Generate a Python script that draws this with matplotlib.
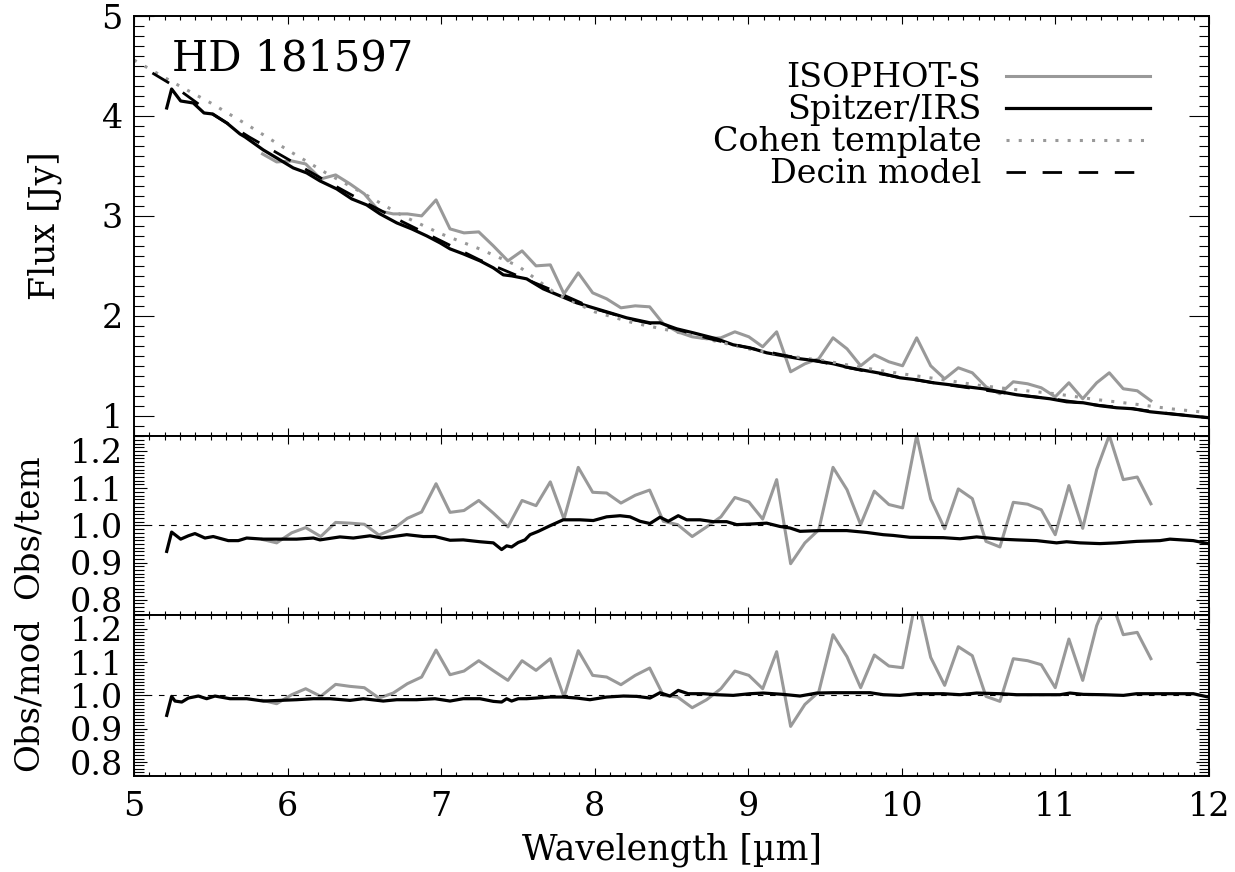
import numpy as np
import matplotlib
matplotlib.use('Agg')
import matplotlib.pyplot as plt
from matplotlib.ticker import MultipleLocator, FormatStrFormatter

plt.rcParams['font.family'] = ['DejaVu Serif']
plt.rcParams['mathtext.fontset'] = 'dejavuserif'

# ISOPHOT-S spectrum (wavelength in micron)
iso_wave = [5.837, 5.929, 6.027, 6.118, 6.216, 6.313, 6.407, 6.500, 6.595, 6.688,
            6.780, 6.873, 6.967, 7.058, 7.149, 7.245, 7.340, 7.435, 7.527, 7.618,
            7.711, 7.800, 7.893, 7.987, 8.078, 8.171, 8.264, 8.358, 8.447, 8.540,
            8.635, 8.729, 8.822, 8.913, 9.004, 9.094, 9.185, 9.276, 9.369, 9.459,
            9.552, 9.643, 9.732, 9.821, 9.916, 10.005, 10.097, 10.188, 10.279, 10.368,
            10.459, 10.548, 10.639, 10.726, 10.819, 10.908, 10.999, 11.088, 11.178, 11.269,
            11.351, 11.442, 11.533, 11.622]
iso_flux = [3.62, 3.54, 3.55, 3.52, 3.37, 3.41, 3.32, 3.22, 3.05, 3.02,
            3.02, 3.00, 3.16, 2.87, 2.83, 2.84, 2.70, 2.55, 2.65, 2.50,
            2.51, 2.22, 2.43, 2.23, 2.17, 2.08, 2.10, 2.09, 1.92, 1.84,
            1.79, 1.77, 1.78, 1.84, 1.79, 1.69, 1.84, 1.44, 1.52, 1.57,
            1.78, 1.67, 1.50, 1.61, 1.54, 1.50, 1.78, 1.50, 1.37, 1.48,
            1.43, 1.29, 1.22, 1.34, 1.32, 1.28, 1.19, 1.33, 1.17, 1.33,
            1.43, 1.27, 1.25, 1.15]
iso_obs_tem = [0.962, 0.953, 0.980, 0.994, 0.970, 1.008, 1.006, 1.003, 0.974, 0.990,
               1.019, 1.036, 1.112, 1.035, 1.040, 1.067, 1.033, 0.996, 1.067, 1.053,
               1.117, 1.017, 1.156, 1.089, 1.087, 1.060, 1.081, 1.095, 1.011, 1.002,
               0.970, 0.996, 1.023, 1.075, 1.063, 1.017, 1.123, 0.897, 0.953, 0.988,
               1.156, 1.096, 1.002, 1.092, 1.056, 1.047, 1.242, 1.071, 0.991, 1.098,
               1.072, 0.957, 0.942, 1.062, 1.057, 1.042, 0.975, 1.107, 0.992, 1.150,
               1.242, 1.123, 1.130, 1.058]
iso_obs_mod = [0.985, 0.975, 1.002, 1.020, 0.997, 1.033, 1.027, 1.023, 0.992, 1.007,
               1.035, 1.055, 1.136, 1.062, 1.073, 1.104, 1.074, 1.045, 1.104, 1.075,
               1.110, 0.995, 1.134, 1.060, 1.055, 1.032, 1.060, 1.082, 1.000, 0.995,
               0.963, 0.987, 1.020, 1.073, 1.060, 1.020, 1.131, 0.907, 0.973, 1.010,
               1.182, 1.116, 1.023, 1.121, 1.088, 1.083, 1.300, 1.114, 1.030, 1.146,
               1.119, 0.997, 0.982, 1.110, 1.104, 1.092, 1.023, 1.169, 1.045, 1.209,
               1.300, 1.182, 1.189, 1.110]

# Spitzer/IRS spectrum
irs_wave = [5.213, 5.245, 5.304, 5.386, 5.456, 5.512, 5.604, 5.690, 5.723, 5.842,
            5.940, 6.037, 6.125, 6.211, 6.320, 6.418, 6.515, 6.602, 6.711, 6.808,
            6.906, 6.993, 7.058, 7.144, 7.253, 7.340, 7.405, 7.459, 7.557, 7.665,
            7.774, 7.883, 7.991, 8.100, 8.208, 8.360, 8.425, 8.534, 8.642, 8.794,
            8.902, 9.011, 9.120, 9.337, 9.446, 9.554, 9.662, 9.771, 9.879, 9.988,
            10.097, 10.205, 10.314, 10.422, 10.530, 10.639, 10.748, 10.856, 10.965, 11.073,
            11.181, 11.290, 11.399, 11.507, 11.616, 12.0]
irs_flux = [4.08, 4.27, 4.15, 4.13, 4.03, 4.02, 3.93, 3.82, 3.79, 3.66,
            3.57, 3.48, 3.43, 3.35, 3.27, 3.17, 3.11, 3.02, 2.93, 2.87,
            2.80, 2.73, 2.67, 2.62, 2.55, 2.48, 2.41, 2.40, 2.37, 2.27,
            2.20, 2.13, 2.08, 2.03, 1.98, 1.93, 1.93, 1.87, 1.83, 1.77,
            1.71, 1.68, 1.63, 1.57, 1.55, 1.52, 1.48, 1.45, 1.42, 1.38,
            1.36, 1.33, 1.31, 1.29, 1.27, 1.24, 1.21, 1.19, 1.17, 1.14,
            1.13, 1.10, 1.08, 1.07, 1.04, 0.98]

irs_tem_wave = [5.213, 5.245, 5.304, 5.354, 5.397, 5.462, 5.516, 5.614, 5.679, 5.734,
                5.842, 5.951, 6.059, 6.168, 6.211, 6.341, 6.428, 6.537, 6.613, 6.688,
                6.776, 6.884, 6.960, 7.058, 7.144, 7.253, 7.340, 7.394, 7.427, 7.459,
                7.502, 7.546, 7.579, 7.633, 7.709, 7.795, 7.904, 7.991, 8.078, 8.165,
                8.230, 8.295, 8.360, 8.425, 8.479, 8.544, 8.599, 8.686, 8.772, 8.859,
                8.925, 9.033, 9.120, 9.207, 9.272, 9.337, 9.467, 9.641, 9.771, 9.879,
                9.944, 10.053, 10.270, 10.379, 10.487, 10.639, 10.748, 10.878, 11.008, 11.073,
                11.160, 11.290, 11.399, 11.529, 11.681, 11.746, 11.898, 11.995]
irs_obs_tem = [0.930, 0.982, 0.963, 0.972, 0.978, 0.966, 0.970, 0.959, 0.959, 0.966,
               0.963, 0.963, 0.963, 0.966, 0.961, 0.969, 0.966, 0.972, 0.966, 0.970,
               0.975, 0.970, 0.970, 0.960, 0.961, 0.956, 0.953, 0.935, 0.945, 0.942,
               0.954, 0.961, 0.975, 0.984, 0.999, 1.015, 1.015, 1.013, 1.023, 1.026,
               1.023, 1.011, 1.005, 1.022, 1.011, 1.026, 1.015, 1.015, 1.010, 1.010,
               1.002, 1.004, 1.006, 0.997, 0.993, 0.984, 0.986, 0.986, 0.981, 0.975,
               0.973, 0.968, 0.967, 0.964, 0.969, 0.963, 0.961, 0.959, 0.953, 0.956,
               0.953, 0.951, 0.953, 0.957, 0.959, 0.963, 0.959, 0.951]

irs_mod_wave = [5.213, 5.245, 5.267, 5.311, 5.354, 5.419, 5.473, 5.527, 5.625, 5.734,
                5.842, 5.951, 6.059, 6.168, 6.276, 6.407, 6.493, 6.623, 6.711, 6.841,
                6.960, 7.058, 7.144, 7.253, 7.340, 7.394, 7.427, 7.459, 7.502, 7.557,
                7.709, 7.795, 7.883, 7.969, 8.078, 8.186, 8.273, 8.360, 8.425, 8.490,
                8.544, 8.609, 8.707, 8.794, 8.902, 9.011, 9.098, 9.228, 9.337, 9.446,
                9.554, 9.727, 9.793, 9.879, 9.988, 10.097, 10.270, 10.379, 10.487, 10.639,
                10.748, 10.878, 11.030, 11.095, 11.182, 11.313, 11.443, 11.529, 11.681, 11.898,
                11.995]
irs_obs_mod = [0.940, 0.997, 0.983, 0.980, 0.992, 0.998, 0.990, 0.998, 0.990, 0.990,
               0.983, 0.985, 0.987, 0.990, 0.990, 0.985, 0.990, 0.983, 0.987, 0.987,
               0.990, 0.983, 0.990, 0.990, 0.982, 0.980, 0.990, 0.983, 0.990, 0.990,
               0.995, 0.995, 0.992, 0.987, 0.995, 0.998, 0.997, 0.992, 1.008, 0.998,
               1.015, 1.005, 1.005, 1.002, 1.000, 1.005, 1.007, 1.003, 0.998, 1.007,
               1.008, 1.008, 1.008, 1.002, 1.000, 1.005, 1.005, 1.002, 1.007, 1.005,
               1.002, 1.002, 1.002, 1.007, 1.003, 1.002, 1.000, 1.005, 1.005, 1.005,
               0.995]

# Cohen template and Decin model
cohen_wave = [5.0, 5.25, 5.5, 5.75, 6.0, 6.25, 6.5, 6.75, 7.0, 7.25,
              7.5, 7.75, 8.0, 8.25, 8.5, 8.75, 9.0, 9.25, 9.5, 9.75,
              10.0, 10.25, 10.5, 10.75, 11.0, 11.25, 11.5, 11.75, 12.0]
cohen_flux = [4.56, 4.34, 4.13, 3.90, 3.66, 3.43, 3.22, 3.00, 2.82, 2.67,
              2.50, 2.22, 2.04, 1.93, 1.85, 1.76, 1.67, 1.60, 1.55, 1.48,
              1.42, 1.365, 1.305, 1.26, 1.22, 1.165, 1.12, 1.07, 1.03]

decin_wave = [5.12, 5.25, 5.5, 5.75, 6.0, 6.25, 6.5, 6.75, 7.0, 7.25,
              7.5, 7.75, 8.0, 8.25, 8.5, 8.75, 9.0, 9.25, 9.5, 9.75,
              10.0, 10.25, 10.5, 10.75, 11.0, 11.25, 11.5, 11.75, 12.0]
decin_flux = [4.43, 4.31, 4.03, 3.79, 3.57, 3.35, 3.14, 2.94, 2.75, 2.56,
              2.40, 2.24, 2.07, 1.96, 1.88, 1.77, 1.68, 1.60, 1.53, 1.45,
              1.38, 1.32, 1.265, 1.21, 1.165, 1.11, 1.07, 1.02, 0.98]

GREY = '#999999'
FS = 24      # tick labels and legend
LFS = 25     # axis titles

fig = plt.figure(figsize=(12.35, 8.72), dpi=100)
ax1 = fig.add_axes([0.1085, 0.5003, 0.8704, 0.4813])
ax2 = fig.add_axes([0.1085, 0.2947, 0.8704, 0.2056], sharex=ax1)
ax3 = fig.add_axes([0.1085, 0.1104, 0.8704, 0.1843], sharex=ax1)

# top panel: fluxes
ax1.plot(iso_wave, iso_flux, color=GREY, lw=2.2, label='ISOPHOT-S')
ax1.plot(irs_wave, irs_flux, color='black', lw=2.3, label='Spitzer/IRS')
ax1.plot(cohen_wave, cohen_flux, color=GREY, lw=2.2, linestyle=(0, (1, 3)),
         label='Cohen template')
ax1.plot(decin_wave, decin_flux, color='black', lw=2.0, linestyle=(0, (7, 6)),
         label='Decin model')
ax1.set_ylim(0.8, 5.0)
ax1.yaxis.set_major_locator(MultipleLocator(1))
ax1.yaxis.set_minor_locator(MultipleLocator(0.1))
ax1.text(0.035, 0.871, 'HD 181597', transform=ax1.transAxes, fontsize=30,
         va='baseline', ha='left')
leg = ax1.legend(loc='upper right', bbox_to_anchor=(0.945, 0.89), frameon=False,
                 markerfirst=False, fontsize=FS, handlelength=4.3,
                 handletextpad=0.75, labelspacing=0.0, borderpad=0,
                 borderaxespad=0)

# ratio panels
ax2.plot(iso_wave, iso_obs_tem, color=GREY, lw=2.2)
ax2.plot(irs_tem_wave, irs_obs_tem, color='black', lw=2.3)
ax3.plot(iso_wave, iso_obs_mod, color=GREY, lw=2.2)
ax3.plot(irs_mod_wave, irs_obs_mod, color='black', lw=2.3)

for ax in (ax2, ax3):
    ax.axhline(1.0, color='black', lw=0.8, linestyle=(0, (5, 6)))
    ax.set_ylim(0.759, 1.241)
    ax.yaxis.set_major_locator(MultipleLocator(0.1))
    ax.yaxis.set_minor_locator(MultipleLocator(0.01))
    ax.yaxis.set_major_formatter(FormatStrFormatter('%.1f'))

for ax in (ax1, ax2, ax3):
    ax.set_xlim(5, 12)
    ax.xaxis.set_major_locator(MultipleLocator(1))
    ax.xaxis.set_minor_locator(MultipleLocator(0.1))
    for s in ax.spines.values():
        s.set_linewidth(1.4)
    ax.tick_params(which='both', direction='in', top=True, right=True,
                   labelsize=FS, width=0.8)
    ax.tick_params(axis='x', which='major', length=5.8, pad=11)
    ax.tick_params(axis='x', which='minor', length=3.2)

ax1.tick_params(axis='y', which='major', length=14.5, pad=8)
ax1.tick_params(axis='y', which='minor', length=7.5)
for ax in (ax2, ax3):
    ax.tick_params(axis='y', which='major', length=9.5, pad=8)
    ax.tick_params(axis='y', which='minor', length=7)

ax1.tick_params(labelbottom=False)
ax2.tick_params(labelbottom=False)

fig.text(672 / 1235, 1 - 850 / 872, 'Wavelength [µm]', fontsize=LFS,
         ha='center', va='center')
fig.text(45 / 1235, 1 - 226 / 872, 'Flux [Jy]', fontsize=LFS, rotation=90,
         ha='center', va='center')
fig.text(29 / 1235, 1 - 527 / 872, 'Obs/tem', fontsize=24.5, rotation=90,
         ha='center', va='center')
fig.text(29 / 1235, 1 - 695 / 872, 'Obs/mod', fontsize=24.5, rotation=90,
         ha='center', va='center')

fig.savefig('out.png', dpi=100)
